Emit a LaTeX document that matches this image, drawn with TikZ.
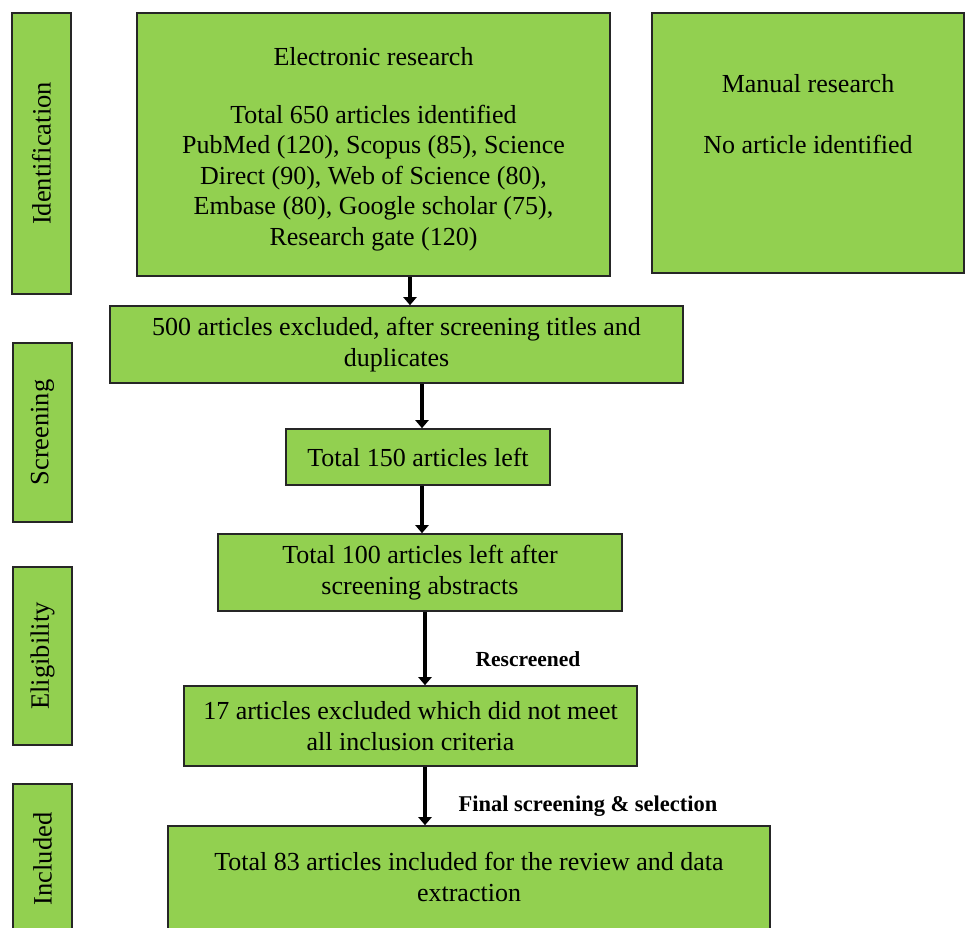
\documentclass[tikz,border=0pt]{standalone}
\usepackage{fontspec}
\setmainfont{Liberation Serif}
\usetikzlibrary{arrows.meta}
\definecolor{boxgreen}{RGB}{146,208,80}
\tikzset{
  gbox/.style={draw=black!85, line width=1.6pt, fill=boxgreen, inner sep=0pt, align=center,
    font=\fontsize{26}{30.5}\selectfont},
  boxtext/.style={font=\fontsize{26}{30.5}\selectfont, align=center},
  sidebox/.style={gbox, minimum width=59pt},
  sidetext/.style={rotate=90, font=\fontsize{26.5}{30}\selectfont},
  flow/.style={line width=4.5pt, -{Triangle[width=13pt,length=8pt]}},
  steplabel/.style={font=\fontsize{21.5}{24}\selectfont\bfseries}
}
\begin{document}
\begin{tikzpicture}[x=1pt,y=-1pt]
\useasboundingbox (0,0) rectangle (966,927);
\clip (0,0) rectangle (966,927);
% side stage boxes
\node[sidebox, minimum height=281pt] (ident) at (41.5,153.5) {};
\node[sidetext] (identt) at (ident.center) {Identification};
\node[sidebox, minimum height=179pt] (screen) at (42.5,432.5) {};
\node[sidetext] (screent) at (screen.center) {Screening};
\node[sidebox, minimum height=178pt] (elig) at (42.5,656) {};
\node[sidetext] (eligt) at (elig.center) {Eligibility};
\node[sidebox, minimum height=200pt] (incl) at (42.5,884) {};
\node[sidetext] (inclt) at (42.5,859) {Included};
% main boxes
\node[gbox, minimum width=473pt, minimum height=263pt] (elec) at (373.5,144.5) {};
\node[boxtext] (elect) at (373.5,149.5)
  {Electronic research\\[27pt]
   Total 650 articles identified\\
   PubMed (120), Scopus (85), Science\\
   Direct (90), Web of Science (80),\\
   Embase (80), Google scholar (75),\\
   Research gate (120)};
\node[gbox, minimum width=312pt, minimum height=260pt] (manual) at (808,143) {};
\node[boxtext] (mant) at (808,114)
  {Manual research\\[31pt] No article identified};
\node[gbox, minimum width=573pt, minimum height=77pt] (b500) at (396.5,344.5)
  {500 articles excluded, after screening titles and\\ duplicates};
\node[gbox, minimum width=264pt, minimum height=56pt] (b150) at (418,457)
  {Total 150 articles left};
\node[gbox, minimum width=404pt, minimum height=77pt] (b100) at (420,572.5)
  {Total 100 articles left after\\ screening abstracts};
\node[gbox, minimum width=453pt, minimum height=80pt] (b17) at (410.5,726)
  {17 articles excluded which did not meet\\ all inclusion criteria};
\node[gbox, minimum width=602pt, minimum height=200pt] (b83) at (469,926) {};
\node[boxtext] (b83t) at (469,877)
  {Total 83 articles included for the review and data\\ extraction};
% arrows
\coordinate (xa) at (410,0);
\coordinate (xb) at (422,0);
\coordinate (xc) at (425,0);
\draw[flow, line width=3.8pt] (elec.south -| xa) -- (b500.north -| xa);
\draw[flow] (b500.south -| xb) -- (b150.north -| xb);
\draw[flow] (b150.south -| xb) -- (b100.north -| xb);
\draw[flow] (b100.south -| xc) -- (b17.north -| xc);
\draw[flow] (b17.south -| xc) -- (b83.north -| xc);
% labels
\node[steplabel] (lres) at (528,659) {Rescreened};
\node[steplabel, font=\fontsize{22.5}{24}\selectfont\bfseries] (lfin) at (588,806) {Final screening \& selection};
\end{tikzpicture}
\end{document}
